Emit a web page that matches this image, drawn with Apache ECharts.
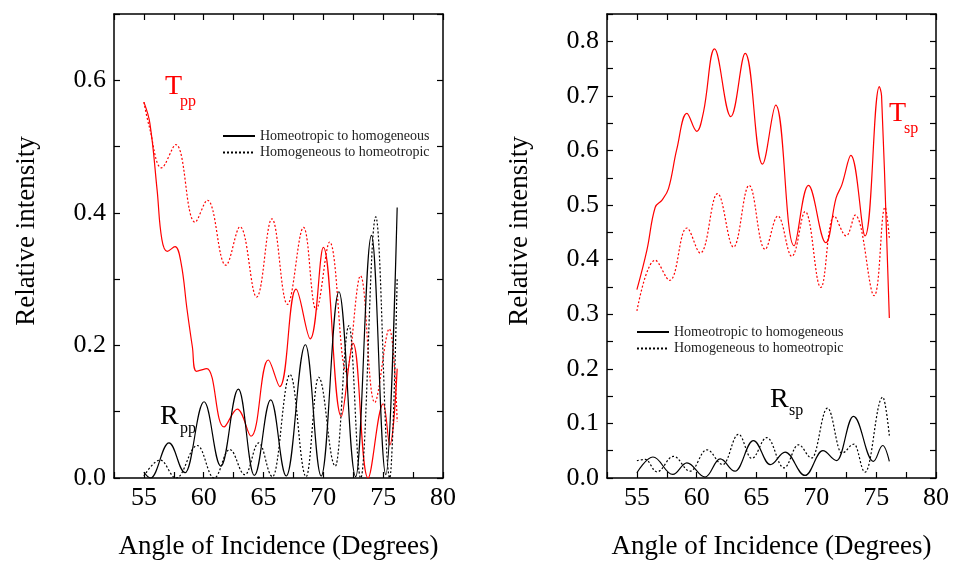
<!DOCTYPE html>
<html><head><meta charset="utf-8">
<script src="https://cdn.jsdelivr.net/npm/echarts@6/dist/echarts.min.js"></script>
<style>html,body{margin:0;padding:0;background:#fff}#c{width:953px;height:565px}</style>
</head><body><div id="c"></div>
<script>
// ---------- data ----------
const legendNames = ['Homeotropic to homogeneous', 'Homogeneous to homeotropic'];
const xTitle = 'Angle of Incidence (Degrees)';
const yTitle = 'Relative intensity';

// Left panel: Tpp (red) and Rpp (black)
const tppSolidX = [55,55.5,56.1,56.5,56.95,57.6,58.1,58.6,59.05,59.4,60.25,61.7,62.8,63.95,65.4,66.35,67.72,68.9,70.0,71.5,72.48,73.74,75.0,75.55,76.17];
const tppSolidY = [0.567,0.535,0.435,0.36,0.342,0.349,0.325,0.255,0.198,0.161,0.165,0.077,0.104,0.063,0.178,0.138,0.285,0.21,0.348,0.093,0.203,0.0,0.112,0.05,0.165];
const tppDotX = [55,55.45,56.48,57.66,59.28,60.3,61.85,63.03,64.42,65.7,67.0,68.34,69.4,70.52,71.92,73.1,74.3,75.5,76.17];
const tppDotY = [0.567,0.53,0.468,0.503,0.386,0.419,0.321,0.379,0.273,0.391,0.262,0.378,0.254,0.356,0.16,0.305,0.114,0.225,0.085];
const rppSolidX = [55,55.56,57.1,58.44,60.03,61.43,62.9,64.23,65.6,66.9,68.5,69.82,71.3,72.7,74.02,75.22,76.17];
const rppSolidY = [0.009,0.0,0.053,0.008,0.115,0.018,0.134,0.004,0.118,0.003,0.201,0.003,0.281,0.002,0.366,0.005,0.408];
const rppDotX = [55,56.35,57.7,59.47,60.87,62.17,63.45,64.6,65.75,67.22,68.56,69.6,71.0,72.14,73.12,74.38,75.55,76.17];
const rppDotY = [0.003,0.027,0.0,0.049,0.0,0.043,0.005,0.053,0.002,0.156,0.002,0.152,0.018,0.23,0.0,0.394,0.0,0.3];

// Right panel: Tsp (red) and Rsp (black)
const tspSolidX = [55,55.84,56.53,57.1,57.64,58.34,59.18,60.0,60.56,61.49,62.85,64.05,65.5,66.6,68.14,69.34,70.79,71.65,72.13,72.88,74.07,75.27,75.45,76.1];
const tspSolidY = [0.345,0.418,0.496,0.509,0.53,0.603,0.668,0.635,0.67,0.786,0.662,0.778,0.575,0.683,0.4255,0.536,0.431,0.513,0.537,0.591,0.4435,0.717,0.70,0.293];
const tspDotX = [55,56.53,57.73,59.18,60.29,61.74,63.07,64.38,65.72,66.78,67.95,69.06,70.37,71.51,72.49,73.24,74.83,75.74,76.1];
const tspDotY = [0.306,0.399,0.362,0.458,0.412,0.521,0.423,0.536,0.419,0.48,0.406,0.488,0.349,0.48,0.4436,0.4815,0.334,0.496,0.44];
const rspSolidX = [55,56.34,58.0,59.18,60.7,61.96,63.2,64.74,66.14,67.39,69.06,70.54,71.71,73.1,74.77,75.55,76.1];
const rspSolidY = [0.0096,0.0385,0.0065,0.0277,0.0017,0.035,0.0125,0.0686,0.0246,0.0475,0.0047,0.05,0.032,0.113,0.0306,0.0595,0.0306];
const rspDotX = [55,55.7,56.67,58.06,59.45,60.85,62.18,63.49,64.6,65.86,67.3,68.5,69.62,70.93,72.13,73.15,74.07,75.55,76.1];
const rspDotY = [0.0318,0.034,0.0114,0.0396,0.0125,0.0517,0.0246,0.08,0.036,0.074,0.0186,0.0608,0.0367,0.128,0.0457,0.062,0.0107,0.148,0.0776];

// ---------- chart ----------
const zip = (xs, ys) => xs.map((x, i) => [x, ys[i]]);
const FONT = "'Liberation Serif','Times New Roman',serif";
const RED = '#ff0000';
const DOT = [2, 2];

function xAxes(grid) {
  const base = {
    gridIndex: grid, type: 'value', min: 52.5, max: 80, interval: 2.5,
    axisLine: { show: true, onZero: false, lineStyle: { color: '#000', width: 1.5 } },
    axisTick: { show: true, inside: true, length: 6, lineStyle: { color: '#000', width: 1.2 } },
    splitLine: { show: false }
  };
  return [
    Object.assign({}, base, {
      position: 'bottom',
      axisLabel: { margin: 7, fontSize: 26, fontFamily: FONT, color: '#000',
        formatter: v => (Math.abs(v % 5) < 1e-6 ? String(v) : '') },
      name: xTitle, nameLocation: 'middle', nameGap: 55,
      nameTextStyle: { fontSize: 27, fontFamily: FONT, color: '#000' }
    }),
    Object.assign({}, base, { position: 'top', axisLabel: { show: false } })
  ];
}
function yAxes(grid, max, interval, fmt) {
  const base = {
    gridIndex: grid, type: 'value', min: 0, max: max, interval: interval,
    axisLine: { show: true, onZero: false, lineStyle: { color: '#000', width: 1.5 } },
    axisTick: { show: true, inside: true, length: 6, lineStyle: { color: '#000', width: 1.2 } },
    splitLine: { show: false }
  };
  return [
    Object.assign({}, base, {
      position: 'left',
      axisLabel: { margin: 8, fontSize: 26, fontFamily: FONT, color: '#000', formatter: fmt },
      name: yTitle, nameLocation: 'middle', nameGap: 74, nameRotate: 90,
      nameTextStyle: { fontSize: 27, fontFamily: FONT, color: '#000', padding: [0, 0, 0, 30] }
    }),
    Object.assign({}, base, { position: 'right', axisLabel: { show: false } })
  ];
}
const fmtLeft = v => { const k = Math.round(v * 10); return k % 2 === 0 ? (k / 10).toFixed(1) : ''; };
const fmtRight = v => { const k = Math.round(v * 20); return k % 2 === 0 ? (k / 20).toFixed(1) : ''; };

function line(name, data, xi, yi, color, dotted, mono) {
  return {
    name: name, type: 'line', data: data, xAxisIndex: xi, yAxisIndex: yi,
    symbol: 'none', smooth: 0.4, smoothMonotone: mono || null, silent: true,
    lineStyle: { color: color, width: 1.2, type: dotted ? DOT : 'solid' },
    itemStyle: { color: color }
  };
}

const legendCommon = {
  orient: 'vertical', itemWidth: 32, itemHeight: 14, itemGap: 2.5, padding: 0,
  itemStyle: { opacity: 0, borderWidth: 0 },
  textStyle: { fontSize: 14, fontFamily: FONT, color: '#222' },
  data: legendNames, selectedMode: false
};

const option = {
  animation: false,
  backgroundColor: '#fff',
  grid: [
    { left: 114, right: 510, top: 14, bottom: 82 },
    { left: 607, right: 17, top: 14, bottom: 82 }
  ],
  xAxis: [...xAxes(0), ...xAxes(1)],
  yAxis: [...yAxes(0, 0.7, 0.1, fmtLeft), ...yAxes(1, 0.85, 0.05, fmtRight)],
  legend: [
    Object.assign({}, legendCommon, { left: 222, top: 129 }),
    Object.assign({}, legendCommon, { left: 636, top: 325 })
  ],
  series: [
    line('Tpp solid', zip(tppSolidX, tppSolidY), 0, 0, RED, false),
    line('Tpp dotted', zip(tppDotX, tppDotY), 0, 0, RED, true),
    line('Rpp solid', zip(rppSolidX, rppSolidY), 0, 0, '#000', false, 'x'),
    line('Rpp dotted', zip(rppDotX, rppDotY), 0, 0, '#000', true, 'x'),
    line('Tsp solid', zip(tspSolidX, tspSolidY), 2, 2, RED, false),
    line('Tsp dotted', zip(tspDotX, tspDotY), 2, 2, RED, true),
    line('Rsp solid', zip(rspSolidX, rspSolidY), 2, 2, '#000', false, 'x'),
    line('Rsp dotted', zip(rspDotX, rspDotY), 2, 2, '#000', true, 'x'),
    line(legendNames[0], [], 0, 0, '#000', false),
    line(legendNames[1], [], 0, 0, '#000', true)
  ],
  graphic: [
    { type: 'text', left: 165, top: 73, style: { text: 'T', fontSize: 28, fontFamily: FONT, fill: RED } },
    { type: 'text', left: 180, top: 94, style: { text: 'pp', fontSize: 16, fontFamily: FONT, fill: RED } },
    { type: 'text', left: 160, top: 403, style: { text: 'R', fontSize: 28, fontFamily: FONT, fill: '#000' } },
    { type: 'text', left: 180, top: 421, style: { text: 'pp', fontSize: 16, fontFamily: FONT, fill: '#000' } },
    { type: 'text', left: 889, top: 100, style: { text: 'T', fontSize: 28, fontFamily: FONT, fill: RED } },
    { type: 'text', left: 904, top: 121, style: { text: 'sp', fontSize: 16, fontFamily: FONT, fill: RED } },
    { type: 'text', left: 770, top: 386, style: { text: 'R', fontSize: 28, fontFamily: FONT, fill: '#000' } },
    { type: 'text', left: 789, top: 403, style: { text: 'sp', fontSize: 16, fontFamily: FONT, fill: '#000' } }
  ]
};
echarts.init(document.getElementById('c'), null, { renderer: 'canvas' }).setOption(option);
</script>
</body></html>
